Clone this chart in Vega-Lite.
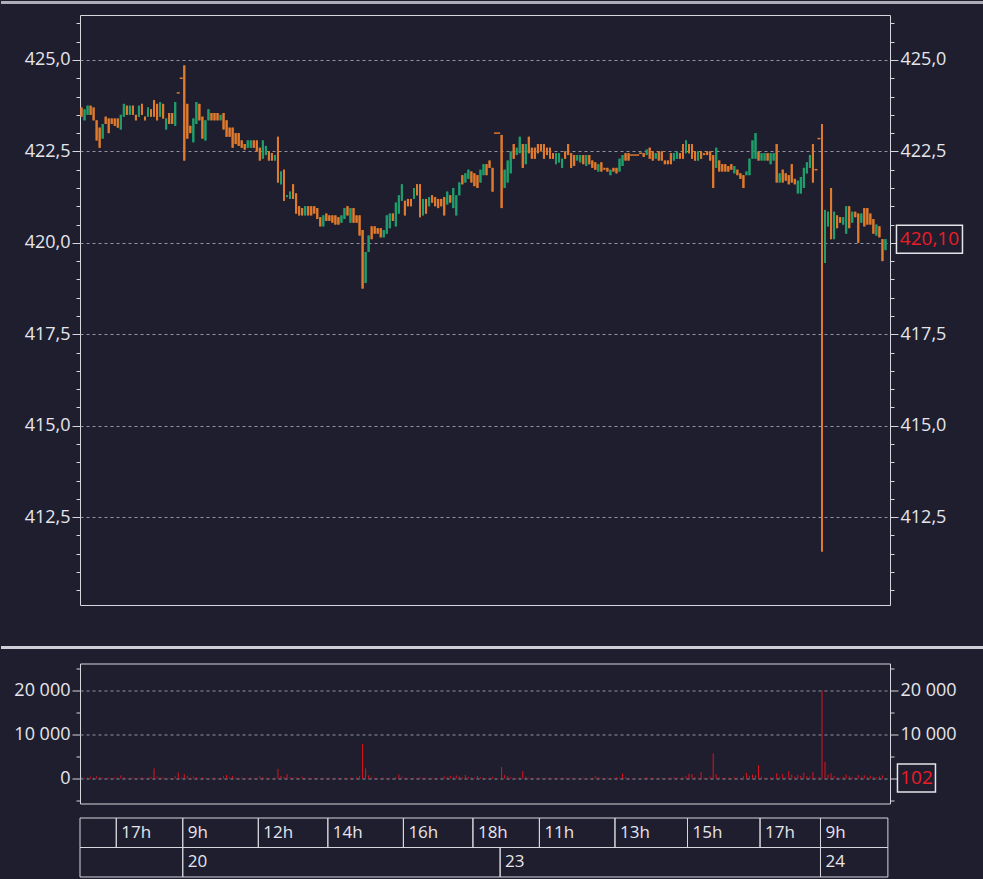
{
  "$schema": "https://vega.github.io/schema/vega-lite/v6.json",
  "background": "#1f1e2f",
  "padding": {"left": 0, "top": 0, "right": 0, "bottom": 1},
  "spacing": 12.5,
  "datasets": {
    "bars": [
      {"i":0,"o":423.7,"h":423.7,"l":423.45,"c":423.45,"v":300},
      {"i":1,"o":423.35,"h":423.65,"l":423.35,"c":423.65,"v":150},
      {"i":2,"o":423.5,"h":423.75,"l":423.5,"c":423.75,"v":250},
      {"i":3,"o":423.75,"h":423.75,"l":423.5,"c":423.5,"v":400},
      {"i":4,"o":423.7,"h":423.7,"l":423.35,"c":423.35,"v":200},
      {"i":5,"o":423.35,"h":423.35,"l":422.8,"c":422.8,"v":500},
      {"i":6,"o":423.15,"h":423.15,"l":422.6,"c":422.6,"v":350},
      {"i":7,"o":422.85,"h":423.25,"l":422.85,"c":423.25,"v":200},
      {"i":8,"o":423.45,"h":423.45,"l":423.25,"c":423.25,"v":100},
      {"i":9,"o":423.4,"h":423.4,"l":423.0,"c":423.0,"v":250},
      {"i":10,"o":423.4,"h":423.4,"l":423.25,"c":423.25,"v":150},
      {"i":11,"o":423.4,"h":423.4,"l":423.2,"c":423.2,"v":300},
      {"i":12,"o":423.4,"h":423.4,"l":423.15,"c":423.15,"v":200},
      {"i":13,"o":423.1,"h":423.5,"l":423.1,"c":423.5,"v":700},
      {"i":14,"o":423.45,"h":423.8,"l":423.45,"c":423.8,"v":300},
      {"i":15,"o":423.75,"h":423.75,"l":423.5,"c":423.5,"v":150},
      {"i":16,"o":423.5,"h":423.75,"l":423.5,"c":423.75,"v":200},
      {"i":17,"o":423.75,"h":423.75,"l":423.5,"c":423.5,"v":250},
      {"i":18,"o":423.5,"h":423.5,"l":423.35,"c":423.35,"v":100},
      {"i":19,"o":423.45,"h":423.75,"l":423.45,"c":423.75,"v":200},
      {"i":20,"o":423.8,"h":423.8,"l":423.5,"c":423.5,"v":300},
      {"i":21,"o":423.45,"h":423.45,"l":423.35,"c":423.35,"v":150},
      {"i":22,"o":423.45,"h":423.7,"l":423.45,"c":423.7,"v":200},
      {"i":23,"o":423.65,"h":423.65,"l":423.45,"c":423.45,"v":350},
      {"i":24,"o":423.9,"h":423.9,"l":423.45,"c":423.45,"v":2300},
      {"i":25,"o":423.8,"h":423.8,"l":423.35,"c":423.35,"v":400},
      {"i":26,"o":423.45,"h":423.85,"l":423.45,"c":423.85,"v":250},
      {"i":27,"o":423.8,"h":423.8,"l":423.4,"c":423.4,"v":300},
      {"i":28,"o":423.1,"h":423.4,"l":423.1,"c":423.4,"v":150},
      {"i":29,"o":423.55,"h":423.55,"l":423.25,"c":423.25,"v":200},
      {"i":30,"o":423.55,"h":423.55,"l":423.25,"c":423.25,"v":100},
      {"i":31,"o":423.2,"h":423.85,"l":423.2,"c":423.85,"v":500},
      {"i":32,"o":424.1,"h":424.1,"l":424.1,"c":424.1,"v":1400},
      {"i":33,"o":424.5,"h":424.5,"l":424.5,"c":424.5,"v":300},
      {"i":34,"o":424.85,"h":424.85,"l":422.25,"c":422.25,"v":1000},
      {"i":35,"o":423.8,"h":423.8,"l":422.85,"c":422.85,"v":600},
      {"i":36,"o":423.2,"h":423.2,"l":423.0,"c":423.0,"v":200},
      {"i":37,"o":422.75,"h":423.4,"l":422.75,"c":423.4,"v":400},
      {"i":38,"o":423.25,"h":423.85,"l":423.25,"c":423.85,"v":300},
      {"i":39,"o":423.8,"h":423.8,"l":423.35,"c":423.35,"v":150},
      {"i":40,"o":423.45,"h":423.45,"l":422.85,"c":422.85,"v":250},
      {"i":41,"o":422.8,"h":423.35,"l":422.8,"c":423.35,"v":200},
      {"i":42,"o":423.35,"h":423.65,"l":423.35,"c":423.65,"v":100},
      {"i":43,"o":423.55,"h":423.55,"l":423.35,"c":423.35,"v":150},
      {"i":44,"o":423.55,"h":423.55,"l":423.35,"c":423.35,"v":200},
      {"i":45,"o":423.55,"h":423.55,"l":423.35,"c":423.35,"v":100},
      {"i":46,"o":423.35,"h":423.5,"l":423.35,"c":423.5,"v":150},
      {"i":47,"o":423.55,"h":423.55,"l":423.1,"c":423.1,"v":500},
      {"i":48,"o":423.35,"h":423.35,"l":422.9,"c":422.9,"v":800},
      {"i":49,"o":423.15,"h":423.15,"l":422.9,"c":422.9,"v":300},
      {"i":50,"o":423.15,"h":423.15,"l":422.6,"c":422.6,"v":600},
      {"i":51,"o":423.0,"h":423.0,"l":422.7,"c":422.7,"v":200},
      {"i":52,"o":423.0,"h":423.0,"l":422.65,"c":422.65,"v":150},
      {"i":53,"o":422.8,"h":422.8,"l":422.6,"c":422.6,"v":250},
      {"i":54,"o":422.7,"h":422.7,"l":422.55,"c":422.55,"v":100},
      {"i":55,"o":422.6,"h":422.8,"l":422.6,"c":422.8,"v":150},
      {"i":56,"o":422.6,"h":422.8,"l":422.6,"c":422.8,"v":200},
      {"i":57,"o":422.8,"h":422.8,"l":422.6,"c":422.6,"v":100},
      {"i":58,"o":422.8,"h":422.8,"l":422.5,"c":422.5,"v":150},
      {"i":59,"o":422.6,"h":422.6,"l":422.25,"c":422.25,"v":500},
      {"i":60,"o":422.3,"h":422.8,"l":422.3,"c":422.8,"v":300},
      {"i":61,"o":422.4,"h":422.65,"l":422.4,"c":422.65,"v":200},
      {"i":62,"o":422.5,"h":422.5,"l":422.25,"c":422.25,"v":150},
      {"i":63,"o":422.45,"h":422.45,"l":422.25,"c":422.25,"v":100},
      {"i":64,"o":422.25,"h":422.4,"l":422.25,"c":422.4,"v":200},
      {"i":65,"o":422.9,"h":422.9,"l":421.65,"c":421.65,"v":2200},
      {"i":66,"o":421.6,"h":421.95,"l":421.6,"c":421.95,"v":600},
      {"i":67,"o":422.0,"h":422.0,"l":421.15,"c":421.15,"v":400},
      {"i":68,"o":421.25,"h":421.3,"l":421.25,"c":421.3,"v":1000},
      {"i":69,"o":421.2,"h":421.4,"l":421.2,"c":421.4,"v":300},
      {"i":70,"o":421.6,"h":421.6,"l":421.2,"c":421.2,"v":200},
      {"i":71,"o":421.35,"h":421.35,"l":420.8,"c":420.8,"v":300},
      {"i":72,"o":421.0,"h":421.0,"l":420.75,"c":420.75,"v":150},
      {"i":73,"o":420.95,"h":420.95,"l":420.75,"c":420.75,"v":400},
      {"i":74,"o":420.75,"h":421.0,"l":420.75,"c":421.0,"v":100},
      {"i":75,"o":421.0,"h":421.0,"l":420.75,"c":420.75,"v":150},
      {"i":76,"o":421.0,"h":421.0,"l":420.75,"c":420.75,"v":100},
      {"i":77,"o":421.0,"h":421.0,"l":420.8,"c":420.8,"v":200},
      {"i":78,"o":420.95,"h":420.95,"l":420.65,"c":420.65,"v":150},
      {"i":79,"o":420.7,"h":420.7,"l":420.45,"c":420.45,"v":100},
      {"i":80,"o":420.45,"h":420.75,"l":420.45,"c":420.75,"v":150},
      {"i":81,"o":420.8,"h":420.8,"l":420.6,"c":420.6,"v":100},
      {"i":82,"o":420.75,"h":420.75,"l":420.6,"c":420.6,"v":200},
      {"i":83,"o":420.75,"h":420.75,"l":420.55,"c":420.55,"v":100},
      {"i":84,"o":420.75,"h":420.75,"l":420.5,"c":420.5,"v":150},
      {"i":85,"o":420.7,"h":420.7,"l":420.5,"c":420.5,"v":100},
      {"i":86,"o":420.55,"h":420.75,"l":420.55,"c":420.75,"v":200},
      {"i":87,"o":420.65,"h":420.95,"l":420.65,"c":420.95,"v":150},
      {"i":88,"o":421.0,"h":421.0,"l":420.75,"c":420.75,"v":100},
      {"i":89,"o":420.55,"h":420.95,"l":420.55,"c":420.95,"v":200},
      {"i":90,"o":420.95,"h":420.95,"l":420.55,"c":420.55,"v":150},
      {"i":91,"o":420.75,"h":420.75,"l":420.55,"c":420.55,"v":300},
      {"i":92,"o":420.75,"h":420.75,"l":420.2,"c":420.2,"v":600},
      {"i":93,"o":420.35,"h":420.35,"l":418.75,"c":418.75,"v":7900},
      {"i":94,"o":418.9,"h":419.75,"l":418.9,"c":419.75,"v":2300},
      {"i":95,"o":419.75,"h":420.2,"l":419.75,"c":420.2,"v":700},
      {"i":96,"o":420.45,"h":420.45,"l":420.1,"c":420.1,"v":300},
      {"i":97,"o":420.45,"h":420.45,"l":420.25,"c":420.25,"v":200},
      {"i":98,"o":420.4,"h":420.4,"l":420.25,"c":420.25,"v":150},
      {"i":99,"o":420.4,"h":420.4,"l":420.15,"c":420.15,"v":100},
      {"i":100,"o":420.15,"h":420.35,"l":420.15,"c":420.35,"v":200},
      {"i":101,"o":420.25,"h":420.75,"l":420.25,"c":420.75,"v":150},
      {"i":102,"o":420.4,"h":420.8,"l":420.4,"c":420.8,"v":200},
      {"i":103,"o":420.8,"h":420.8,"l":420.6,"c":420.6,"v":100},
      {"i":104,"o":420.45,"h":421.1,"l":420.45,"c":421.1,"v":300},
      {"i":105,"o":420.8,"h":421.3,"l":420.8,"c":421.3,"v":900},
      {"i":106,"o":421.15,"h":421.6,"l":421.15,"c":421.6,"v":400},
      {"i":107,"o":421.15,"h":421.15,"l":420.75,"c":420.75,"v":200},
      {"i":108,"o":421.2,"h":421.2,"l":421.0,"c":421.0,"v":150},
      {"i":109,"o":421.2,"h":421.2,"l":421.0,"c":421.0,"v":100},
      {"i":110,"o":421.2,"h":421.5,"l":421.2,"c":421.5,"v":200},
      {"i":111,"o":421.6,"h":421.6,"l":421.3,"c":421.3,"v":150},
      {"i":112,"o":421.6,"h":421.6,"l":420.7,"c":420.7,"v":300},
      {"i":113,"o":420.75,"h":421.2,"l":420.75,"c":421.2,"v":200},
      {"i":114,"o":421.2,"h":421.2,"l":420.8,"c":420.8,"v":150},
      {"i":115,"o":421.0,"h":421.25,"l":421.0,"c":421.25,"v":100},
      {"i":116,"o":421.3,"h":421.3,"l":421.1,"c":421.1,"v":200},
      {"i":117,"o":421.25,"h":421.25,"l":421.0,"c":421.0,"v":150},
      {"i":118,"o":421.2,"h":421.2,"l":420.95,"c":420.95,"v":100},
      {"i":119,"o":421.2,"h":421.2,"l":421.0,"c":421.0,"v":200},
      {"i":120,"o":421.25,"h":421.25,"l":420.75,"c":420.75,"v":500},
      {"i":121,"o":421.05,"h":421.4,"l":421.05,"c":421.4,"v":300},
      {"i":122,"o":421.3,"h":421.3,"l":421.1,"c":421.1,"v":600},
      {"i":123,"o":420.95,"h":421.5,"l":420.95,"c":421.5,"v":400},
      {"i":124,"o":420.75,"h":421.3,"l":420.75,"c":421.3,"v":700},
      {"i":125,"o":421.3,"h":421.65,"l":421.3,"c":421.65,"v":500},
      {"i":126,"o":421.85,"h":421.85,"l":421.6,"c":421.6,"v":300},
      {"i":127,"o":421.65,"h":421.9,"l":421.65,"c":421.9,"v":800},
      {"i":128,"o":421.75,"h":422.0,"l":421.75,"c":422.0,"v":400},
      {"i":129,"o":421.95,"h":421.95,"l":421.65,"c":421.65,"v":300},
      {"i":130,"o":421.9,"h":421.9,"l":421.55,"c":421.55,"v":200},
      {"i":131,"o":421.85,"h":421.85,"l":421.5,"c":421.5,"v":600},
      {"i":132,"o":421.65,"h":422.0,"l":421.65,"c":422.0,"v":300},
      {"i":133,"o":421.85,"h":422.15,"l":421.85,"c":422.15,"v":200},
      {"i":134,"o":422.15,"h":422.15,"l":421.85,"c":421.85,"v":150},
      {"i":135,"o":422.25,"h":422.25,"l":422.05,"c":422.05,"v":200},
      {"i":136,"o":422.05,"h":422.05,"l":421.4,"c":421.4,"v":400},
      {"i":137,"o":423.0,"h":423.0,"l":423.0,"c":423.0,"v":100},
      {"i":138,"o":423.0,"h":423.0,"l":423.0,"c":423.0,"v":100},
      {"i":139,"o":422.95,"h":422.95,"l":420.95,"c":420.95,"v":2600},
      {"i":140,"o":421.5,"h":422.0,"l":421.5,"c":422.0,"v":800},
      {"i":141,"o":421.65,"h":422.25,"l":421.65,"c":422.25,"v":500},
      {"i":142,"o":421.9,"h":422.5,"l":421.9,"c":422.5,"v":300},
      {"i":143,"o":422.7,"h":422.7,"l":422.3,"c":422.3,"v":200},
      {"i":144,"o":422.4,"h":422.6,"l":422.4,"c":422.6,"v":150},
      {"i":145,"o":422.45,"h":422.9,"l":422.45,"c":422.9,"v":300},
      {"i":146,"o":422.7,"h":422.7,"l":422.05,"c":422.05,"v":1700},
      {"i":147,"o":422.15,"h":422.7,"l":422.15,"c":422.7,"v":400},
      {"i":148,"o":422.9,"h":422.9,"l":422.45,"c":422.45,"v":200},
      {"i":149,"o":422.6,"h":422.6,"l":422.3,"c":422.3,"v":150},
      {"i":150,"o":422.6,"h":422.6,"l":422.3,"c":422.3,"v":100},
      {"i":151,"o":422.7,"h":422.7,"l":422.45,"c":422.45,"v":200},
      {"i":152,"o":422.7,"h":422.7,"l":422.5,"c":422.5,"v":150},
      {"i":153,"o":422.7,"h":422.7,"l":422.3,"c":422.3,"v":100},
      {"i":154,"o":422.6,"h":422.6,"l":422.4,"c":422.4,"v":150},
      {"i":155,"o":422.6,"h":422.6,"l":422.3,"c":422.3,"v":200},
      {"i":156,"o":422.45,"h":422.45,"l":422.3,"c":422.3,"v":100},
      {"i":157,"o":422.15,"h":422.45,"l":422.15,"c":422.45,"v":150},
      {"i":158,"o":422.2,"h":422.45,"l":422.2,"c":422.45,"v":100},
      {"i":159,"o":422.05,"h":422.3,"l":422.05,"c":422.3,"v":200},
      {"i":160,"o":422.5,"h":422.5,"l":422.3,"c":422.3,"v":150},
      {"i":161,"o":422.7,"h":422.7,"l":422.4,"c":422.4,"v":100},
      {"i":162,"o":422.45,"h":422.45,"l":422.05,"c":422.05,"v":200},
      {"i":163,"o":422.4,"h":422.4,"l":422.1,"c":422.1,"v":150},
      {"i":164,"o":422.25,"h":422.4,"l":422.25,"c":422.4,"v":100},
      {"i":165,"o":422.2,"h":422.4,"l":422.2,"c":422.4,"v":150},
      {"i":166,"o":422.4,"h":422.4,"l":422.15,"c":422.15,"v":200},
      {"i":167,"o":422.1,"h":422.4,"l":422.1,"c":422.4,"v":100},
      {"i":168,"o":422.4,"h":422.4,"l":422.15,"c":422.15,"v":150},
      {"i":169,"o":422.25,"h":422.25,"l":422.05,"c":422.05,"v":200},
      {"i":170,"o":422.2,"h":422.2,"l":422.0,"c":422.0,"v":500},
      {"i":171,"o":421.95,"h":422.15,"l":421.95,"c":422.15,"v":300},
      {"i":172,"o":422.2,"h":422.2,"l":421.95,"c":421.95,"v":150},
      {"i":173,"o":422.05,"h":422.05,"l":422.0,"c":422.0,"v":100},
      {"i":174,"o":422.05,"h":422.05,"l":421.95,"c":421.95,"v":200},
      {"i":175,"o":421.85,"h":422.0,"l":421.85,"c":422.0,"v":150},
      {"i":176,"o":422.05,"h":422.05,"l":421.95,"c":421.95,"v":100},
      {"i":177,"o":422.05,"h":422.05,"l":421.9,"c":421.9,"v":300},
      {"i":178,"o":421.95,"h":422.3,"l":421.95,"c":422.3,"v":200},
      {"i":179,"o":422.1,"h":422.4,"l":422.1,"c":422.4,"v":1100},
      {"i":180,"o":422.45,"h":422.45,"l":422.25,"c":422.25,"v":300},
      {"i":181,"o":422.45,"h":422.45,"l":422.25,"c":422.25,"v":150},
      {"i":182,"o":422.4,"h":422.4,"l":422.4,"c":422.4,"v":50},
      {"i":183,"o":422.4,"h":422.4,"l":422.4,"c":422.4,"v":50},
      {"i":184,"o":422.4,"h":422.4,"l":422.4,"c":422.4,"v":50},
      {"i":185,"o":422.45,"h":422.45,"l":422.45,"c":422.45,"v":80},
      {"i":186,"o":422.45,"h":422.45,"l":422.35,"c":422.35,"v":200},
      {"i":187,"o":422.4,"h":422.55,"l":422.4,"c":422.55,"v":300},
      {"i":188,"o":422.6,"h":422.6,"l":422.3,"c":422.3,"v":150},
      {"i":189,"o":422.5,"h":422.5,"l":422.25,"c":422.25,"v":200},
      {"i":190,"o":422.3,"h":422.45,"l":422.3,"c":422.45,"v":100},
      {"i":191,"o":422.5,"h":422.5,"l":422.25,"c":422.25,"v":150},
      {"i":192,"o":422.5,"h":422.5,"l":422.25,"c":422.25,"v":200},
      {"i":193,"o":422.25,"h":422.25,"l":422.15,"c":422.15,"v":100},
      {"i":194,"o":422.25,"h":422.25,"l":422.15,"c":422.15,"v":150},
      {"i":195,"o":422.45,"h":422.45,"l":422.15,"c":422.15,"v":200},
      {"i":196,"o":422.25,"h":422.45,"l":422.25,"c":422.45,"v":300},
      {"i":197,"o":422.3,"h":422.5,"l":422.3,"c":422.5,"v":200},
      {"i":198,"o":422.45,"h":422.45,"l":422.3,"c":422.3,"v":150},
      {"i":199,"o":422.7,"h":422.7,"l":422.3,"c":422.3,"v":300},
      {"i":200,"o":422.45,"h":422.8,"l":422.45,"c":422.8,"v":500},
      {"i":201,"o":422.7,"h":422.7,"l":422.45,"c":422.45,"v":1100},
      {"i":202,"o":422.7,"h":422.7,"l":422.3,"c":422.3,"v":1000},
      {"i":203,"o":422.5,"h":422.5,"l":422.25,"c":422.25,"v":300},
      {"i":204,"o":422.25,"h":422.5,"l":422.25,"c":422.5,"v":200},
      {"i":205,"o":422.5,"h":422.5,"l":422.3,"c":422.3,"v":1400},
      {"i":206,"o":422.45,"h":422.45,"l":422.4,"c":422.4,"v":200},
      {"i":207,"o":422.5,"h":422.5,"l":422.4,"c":422.4,"v":150},
      {"i":208,"o":422.5,"h":422.5,"l":422.25,"c":422.25,"v":400},
      {"i":209,"o":422.4,"h":422.4,"l":421.5,"c":421.5,"v":5700},
      {"i":210,"o":422.05,"h":422.6,"l":422.05,"c":422.6,"v":900},
      {"i":211,"o":422.25,"h":422.25,"l":421.95,"c":421.95,"v":300},
      {"i":212,"o":422.15,"h":422.15,"l":421.95,"c":421.95,"v":200},
      {"i":213,"o":422.15,"h":422.15,"l":421.95,"c":421.95,"v":150},
      {"i":214,"o":422.1,"h":422.1,"l":421.95,"c":421.95,"v":200},
      {"i":215,"o":422.15,"h":422.15,"l":422.0,"c":422.0,"v":100},
      {"i":216,"o":421.9,"h":422.1,"l":421.9,"c":422.1,"v":300},
      {"i":217,"o":422.0,"h":422.0,"l":421.85,"c":421.85,"v":200},
      {"i":218,"o":421.9,"h":421.9,"l":421.75,"c":421.75,"v":150},
      {"i":219,"o":421.85,"h":421.85,"l":421.5,"c":421.5,"v":500},
      {"i":220,"o":421.85,"h":421.95,"l":421.85,"c":421.95,"v":1300},
      {"i":221,"o":421.85,"h":422.3,"l":421.85,"c":422.3,"v":600},
      {"i":222,"o":422.3,"h":422.8,"l":422.3,"c":422.8,"v":900},
      {"i":223,"o":422.3,"h":423.0,"l":422.3,"c":423.0,"v":700},
      {"i":224,"o":422.5,"h":422.5,"l":422.25,"c":422.25,"v":3000},
      {"i":225,"o":422.25,"h":422.45,"l":422.25,"c":422.45,"v":400},
      {"i":226,"o":422.25,"h":422.45,"l":422.25,"c":422.45,"v":200},
      {"i":227,"o":422.45,"h":422.45,"l":422.25,"c":422.25,"v":150},
      {"i":228,"o":422.15,"h":422.45,"l":422.15,"c":422.45,"v":300},
      {"i":229,"o":422.25,"h":422.45,"l":422.25,"c":422.45,"v":200},
      {"i":230,"o":422.7,"h":422.7,"l":421.65,"c":421.65,"v":1200},
      {"i":231,"o":421.65,"h":421.9,"l":421.65,"c":421.9,"v":400},
      {"i":232,"o":422.0,"h":422.0,"l":421.65,"c":421.65,"v":1000},
      {"i":233,"o":421.9,"h":421.9,"l":421.7,"c":421.7,"v":300},
      {"i":234,"o":421.85,"h":421.85,"l":421.6,"c":421.6,"v":1700},
      {"i":235,"o":422.15,"h":422.15,"l":421.65,"c":421.65,"v":900},
      {"i":236,"o":421.75,"h":421.75,"l":421.6,"c":421.6,"v":400},
      {"i":237,"o":421.35,"h":421.7,"l":421.35,"c":421.7,"v":800},
      {"i":238,"o":421.35,"h":421.8,"l":421.35,"c":421.8,"v":600},
      {"i":239,"o":421.5,"h":422.05,"l":421.5,"c":422.05,"v":1300},
      {"i":240,"o":421.9,"h":422.2,"l":421.9,"c":422.2,"v":500},
      {"i":241,"o":422.05,"h":422.4,"l":422.05,"c":422.4,"v":400},
      {"i":242,"o":422.7,"h":422.7,"l":421.65,"c":421.65,"v":1500},
      {"i":243,"o":422.0,"h":422.0,"l":422.0,"c":422.0,"v":200},
      {"i":244,"o":422.85,"h":422.85,"l":422.85,"c":422.85,"v":300},
      {"i":245,"o":422.85,"h":423.25,"l":411.55,"c":420.95,"v":20000},
      {"i":246,"o":419.45,"h":420.9,"l":419.45,"c":420.9,"v":3800},
      {"i":247,"o":420.45,"h":420.85,"l":420.45,"c":420.85,"v":900},
      {"i":248,"o":421.5,"h":421.5,"l":420.1,"c":420.1,"v":1200},
      {"i":249,"o":420.1,"h":420.85,"l":420.1,"c":420.85,"v":600},
      {"i":250,"o":420.75,"h":420.75,"l":420.4,"c":420.4,"v":300},
      {"i":251,"o":420.7,"h":420.7,"l":420.55,"c":420.55,"v":200},
      {"i":252,"o":420.5,"h":420.7,"l":420.5,"c":420.7,"v":400},
      {"i":253,"o":420.25,"h":421.0,"l":420.25,"c":421.0,"v":900},
      {"i":254,"o":421.0,"h":421.0,"l":420.4,"c":420.4,"v":500},
      {"i":255,"o":420.55,"h":420.85,"l":420.55,"c":420.85,"v":300},
      {"i":256,"o":420.85,"h":420.85,"l":420.7,"c":420.7,"v":200},
      {"i":257,"o":420.8,"h":420.8,"l":420.0,"c":420.0,"v":800},
      {"i":258,"o":420.55,"h":420.8,"l":420.55,"c":420.8,"v":400},
      {"i":259,"o":420.95,"h":420.95,"l":420.45,"c":420.45,"v":700},
      {"i":260,"o":420.95,"h":420.95,"l":420.5,"c":420.5,"v":300},
      {"i":261,"o":420.8,"h":420.8,"l":420.5,"c":420.5,"v":600},
      {"i":262,"o":420.65,"h":420.65,"l":420.25,"c":420.25,"v":400},
      {"i":263,"o":420.2,"h":420.5,"l":420.2,"c":420.5,"v":300},
      {"i":264,"o":420.45,"h":420.45,"l":420.15,"c":420.15,"v":500},
      {"i":265,"o":420.1,"h":420.1,"l":419.5,"c":419.5,"v":700},
      {"i":266,"o":419.8,"h":420.1,"l":419.8,"c":420.1,"v":102}
    ],
    "cells": [
      {"row":"h","s":-0.5,"e":11.5,"label":""},
      {"row":"h","s":11.5,"e":33.5,"label":"17h"},
      {"row":"h","s":33.5,"e":58.5,"label":"9h"},
      {"row":"h","s":58.5,"e":81.5,"label":"12h"},
      {"row":"h","s":81.5,"e":106.5,"label":"14h"},
      {"row":"h","s":106.5,"e":129.5,"label":"16h"},
      {"row":"h","s":129.5,"e":151.5,"label":"18h"},
      {"row":"h","s":151.5,"e":176.5,"label":"11h"},
      {"row":"h","s":176.5,"e":200.5,"label":"13h"},
      {"row":"h","s":200.5,"e":224.5,"label":"15h"},
      {"row":"h","s":224.5,"e":244.5,"label":"17h"},
      {"row":"h","s":244.5,"e":266.8,"label":"9h"},
      {"row":"d","s":-0.5,"e":33.5,"label":""},
      {"row":"d","s":33.5,"e":138.5,"label":"20"},
      {"row":"d","s":138.5,"e":244.5,"label":"23"},
      {"row":"d","s":244.5,"e":266.8,"label":"24"}
    ]
  },
  "vconcat": [
    {
      "width": 810,
      "height": 590,
      "data": {"name": "bars"},
      "encoding": {
        "x": {"field": "i", "type": "quantitative", "scale": {"domain": [-0.5, 267.5], "nice": false, "zero": false, "padding": 0}, "axis": null}
      },
      "layer": [
        {
          "layer": [
            {
              "mark": {"type": "rule", "strokeWidth": 2},
              "encoding": {
                "y": {"field": "l", "type": "quantitative", "scale": {"domain": [410.096, 426.23], "nice": false, "zero": false}, "axis": null},
                "y2": {"field": "h"},
                "color": {"condition": {"test": "datum.c > datum.o", "value": "#1f9e6c"}, "value": "#e07a2c"}
              }
            },
            {
              "mark": {"type": "bar", "size": 2},
              "encoding": {
                "y": {"field": "o", "type": "quantitative", "axis": null},
                "y2": {"field": "c"},
                "color": {"condition": {"test": "datum.c > datum.o", "value": "#1f9e6c"}, "value": "#e07a2c"}
              }
            },
            {
              "transform": [{"filter": "datum.o == datum.c"}],
              "mark": {"type": "point", "shape": "M-1,0H1", "size": 9, "filled": false, "strokeWidth": 1.5, "opacity": 1, "color": "#e07a2c"},
              "encoding": {
                "y": {"field": "c", "type": "quantitative", "axis": null}
              }
            },
            {
              "transform": [{"filter": "datum.i == 0"}],
              "mark": {"type": "rect", "color": "#aeaeb8"},
              "encoding": {
                "x": {"datum": -26.64},
                "x2": {"datum": 298.6},
                "y": {"datum": 426.613, "type": "quantitative", "axis": null},
                "y2": {"datum": 426.531}
              }
            },
            {
              "transform": [{"filter": "datum.i == 0"}],
              "mark": {"type": "rect", "color": "#cfcfd8"},
              "encoding": {
                "x": {"datum": -26.64},
                "x2": {"datum": 298.6},
                "y": {"datum": 408.975, "type": "quantitative", "axis": null},
                "y2": {"datum": 408.893}
              }
            }
          ]
        },
        {
          "transform": [{"filter": "datum.i == 266"}],
          "mark": {"type": "point", "opacity": 0},
          "encoding": {
            "y": {
              "field": "c", "type": "quantitative",
              "scale": {"domain": [410.096, 426.23], "nice": false, "zero": false},
              "axis": {
                "orient": "left", "title": null,
                "values": [410.5,411,411.5,412,412.5,413,413.5,414,414.5,415,415.5,416,416.5,417,417.5,418,418.5,419,419.5,420,420.5,421,421.5,422,422.5,423,423.5,424,424.5,425,425.5,426],
                "format": ".1f",
                "labelExpr": "datum.value % 2.5 == 0 ? datum.label : ''",
                "labelFontSize": {"condition": {"test": "datum.value % 2.5 == 0", "value": 18}, "value": 0},
                "tickSize": {"condition": {"test": "datum.value % 2.5 == 0", "value": 8}, "value": 4},
                "grid": true,
                "gridOpacity": {"condition": {"test": "datum.value % 2.5 == 0", "value": 1}, "value": 0}
              }
            }
          }
        },
        {
          "transform": [{"filter": "datum.i == 266"}],
          "encoding": {
            "y": {
              "field": "c", "type": "quantitative",
              "scale": {"domain": [410.096, 426.23], "nice": false, "zero": false},
              "axis": {
                "orient": "right", "title": null,
                "values": [410.5,411,411.5,412,412.5,413,413.5,414,414.5,415,415.5,416,416.5,417,417.5,418,418.5,419,419.5,420,420.5,421,421.5,422,422.5,423,423.5,424,424.5,425,425.5,426],
                "format": ".1f",
                "labelExpr": "datum.value % 2.5 == 0 && datum.value != 420 ? datum.label : ''",
                "labelFontSize": {"condition": {"test": "datum.value % 2.5 == 0 && datum.value != 420", "value": 18}, "value": 0},
                "tickSize": {"condition": {"test": "datum.value % 2.5 == 0", "value": 8}, "value": 4},
                "grid": false
              }
            }
          },
          "layer": [
            {"mark": {"type": "point", "shape": "M-1,-0.4242H1V0.4242H-1Z", "size": 4356, "filled": true, "fill": "#1f1e2f", "stroke": "#e4e4ea", "strokeWidth": 1.5, "opacity": 1, "fillOpacity": 1, "xOffset": 44}},
            {
              "mark": {"type": "text", "dx": 44, "align": "center", "baseline": "middle", "font": "Open Sans", "fontSize": 19, "color": "#ec1c27"},
              "encoding": {"text": {"field": "c", "type": "quantitative", "format": ".2f"}}
            }
          ]
        }
      ],
      "resolve": {"scale": {"y": "independent"}, "axis": {"y": "independent"}}
    },
    {
      "width": 810,
      "height": 140,
      "data": {"name": "bars"},
      "encoding": {
        "x": {"field": "i", "type": "quantitative", "scale": {"domain": [-0.5, 267.5], "nice": false, "zero": false, "padding": 0}, "axis": null}
      },
      "layer": [
        {
          "mark": {"type": "rule", "color": "#e3121c", "strokeWidth": 1},
          "encoding": {
            "y": {
              "field": "v", "type": "quantitative",
              "scale": {"domain": [-5682, 26136], "nice": false, "zero": false},
              "axis": {
                "orient": "left", "title": null,
                "values": [-5000, 0, 5000, 10000, 15000, 20000, 25000],
                "format": ",d",
                "labelExpr": "datum.value % 10000 == 0 ? datum.label : ''",
                "labelFontSize": {"condition": {"test": "datum.value % 10000 == 0", "value": 18}, "value": 0},
                "tickSize": {"condition": {"test": "datum.value % 10000 == 0", "value": 8}, "value": 4},
                "grid": true,
                "gridOpacity": {"condition": {"test": "datum.value % 10000 == 0", "value": 1}, "value": 0}
              }
            },
            "y2": {"datum": 0}
          }
        },
        {
          "transform": [{"filter": "datum.i == 266"}],
          "encoding": {
            "y": {
              "field": "v", "type": "quantitative",
              "scale": {"domain": [-5682, 26136], "nice": false, "zero": false},
              "axis": {
                "orient": "right", "title": null,
                "values": [-5000, 0, 5000, 10000, 15000, 20000, 25000],
                "format": ",d",
                "labelExpr": "datum.value % 10000 == 0 && datum.value != 0 ? datum.label : ''",
                "labelFontSize": {"condition": {"test": "datum.value % 10000 == 0 && datum.value != 0", "value": 18}, "value": 0},
                "tickSize": {"condition": {"test": "datum.value % 10000 == 0", "value": 8}, "value": 4},
                "grid": false
              }
            }
          },
          "layer": [
            {"mark": {"type": "point", "shape": "M-1,-0.7368H1V0.7368H-1Z", "size": 1444, "filled": true, "fill": "#1f1e2f", "stroke": "#e4e4ea", "strokeWidth": 1.5, "opacity": 1, "fillOpacity": 1, "xOffset": 31}},
            {
              "mark": {"type": "text", "dx": 31, "align": "center", "baseline": "middle", "font": "Open Sans", "fontSize": 19, "color": "#ec1c27"},
              "encoding": {"text": {"field": "v", "type": "quantitative", "format": "d"}}
            }
          ]
        }
      ],
      "resolve": {"scale": {"y": "independent"}, "axis": {"y": "independent"}}
    },
    {
      "width": 810,
      "height": 59,
      "view": {"stroke": null},
      "data": {"name": "cells"},
      "encoding": {
        "x": {"field": "s", "type": "quantitative", "scale": {"domain": [-0.5, 267.5], "nice": false, "zero": false, "padding": 0}, "axis": null},
        "y": {"field": "row", "type": "nominal", "scale": {"type": "band", "domain": ["h", "d"], "paddingInner": 0, "paddingOuter": 0}, "axis": null}
      },
      "layer": [
        {
          "mark": {"type": "rect", "fillOpacity": 0, "stroke": "#d6d6de", "strokeWidth": 1},
          "encoding": {"x2": {"field": "e"}}
        },
        {
          "mark": {"type": "text", "align": "left", "baseline": "middle", "dx": 5, "font": "Open Sans", "fontSize": 17, "color": "#e6e6ec"},
          "encoding": {"text": {"field": "label"}}
        }
      ]
    }
  ],
  "config": {
    "locale": {"number": {"decimal": ",", "thousands": " ", "grouping": [3], "currency": ["", ""]}},
    "view": {"stroke": "#d6d6de", "strokeWidth": 1},
    "axis": {
      "domain": false,
      "labelFont": "Open Sans",
      "labelFontSize": 18,
      "labelColor": "#e6e6ec",
      "labelPadding": 2,
      "labelOverlap": false,
      "tickColor": "#d6d6de",
      "tickWidth": 1,
      "gridColor": "#9494a4",
      "gridDash": [3, 3],
      "gridWidth": 1
    }
  }
}
